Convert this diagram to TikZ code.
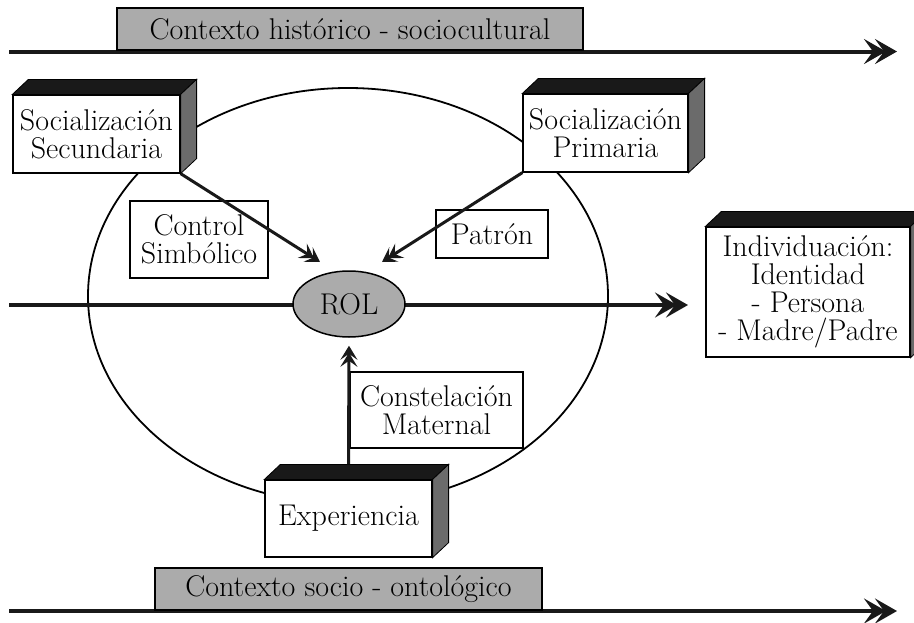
\documentclass[tikz,border=0pt]{standalone}
\usetikzlibrary{arrows.meta,shapes.geometric}
\definecolor{boxgray}{gray}{0.67}
\definecolor{sidegray}{gray}{0.42}
\definecolor{topblack}{gray}{0.1}
\tikzset{
  txt/.style={font=\fontsize{30}{28}\selectfont, align=center, text=black, inner sep=0pt},
  whitebox/.style={txt, draw=black, line width=1.2pt, fill=white},
  graybox/.style={txt, draw=black, line width=1.2pt, fill=boxgray},
  rolstyle/.style={txt, ellipse, draw=black, line width=1.5pt, fill=boxgray, minimum width=112pt, minimum height=66pt},
  bigline/.style={line width=4pt, draw=topblack,
    -{Stealth[length=22pt,width=25pt,inset=9pt,sep=-11pt]Stealth[length=22pt,width=25pt,inset=9pt]}},
  thinarrow/.style={line width=3pt, draw=topblack,
    -{Stealth[length=14pt,width=17pt,inset=6pt,sep=-7pt]Stealth[length=14pt,width=17pt,inset=6pt]}},
}
\newcommand\depthfaces[1]{%
  \filldraw[fill=topblack,draw=black,line width=0.8pt] (#1.north west) -- ++(16pt,15pt) -- ([shift={(16pt,15pt)}]#1.north east) -- (#1.north east) -- cycle;
  \filldraw[fill=sidegray,draw=black,line width=0.8pt] (#1.north east) -- ++(16pt,15pt) -- ([shift={(16pt,15pt)}]#1.south east) -- (#1.south east) -- cycle;
}
\begin{document}
\begin{tikzpicture}[x=1pt,y=-1pt]
\useasboundingbox (0,0) rectangle (914,622);
\fill[white] (0,0) rectangle (914,622);

% big circle
\draw[line width=1.8pt] (348,296) ellipse [x radius=260pt, y radius=208pt];

% horizontal lines
\coordinate (t0) at (9,51.5);
\coordinate (t1) at (897,51.5);
\coordinate (b0) at (9,611);
\coordinate (b1) at (897,611);
\coordinate (m0) at (9,305);
\coordinate (m1) at (688,305);
\draw[bigline] (t0) -- (t1);
\draw[bigline] (b0) -- (b1);
\draw[bigline] (m0) -- (m1);

% context boxes
\node[graybox, minimum width=466pt, minimum height=42pt] (hist) at (350,29) {Contexto histórico - sociocultural};
\node[graybox, minimum width=387pt, minimum height=42pt] (onto) at (348.5,589) {Contexto socio - ontológico};

% ROL
\node[rolstyle] (rol) at (349,304) {ROL};

% plain boxes
\node[whitebox, minimum width=138pt, minimum height=77pt] (ctrl) at (199,239.5) {Control\\Simbólico};
\node[whitebox, minimum width=112pt, minimum height=48pt] (pat) at (492,234) {Patrón};
\node[whitebox, minimum width=173pt, minimum height=76pt] (cons) at (436.5,410) {Constelación\\Maternal};

% 3D boxes
\node[whitebox, minimum width=167pt, minimum height=78pt] (ss) at (96.5,134) {Socialización\\Secundaria};
\depthfaces{ss}
\node[whitebox, minimum width=165pt, minimum height=78pt] (sp) at (605.5,133) {Socialización\\Primaria};
\depthfaces{sp}
\node[whitebox, minimum width=204pt, minimum height=130pt] (ind) at (808,292) {Individuación:\\Identidad\\- Persona\\- Madre/Padre};
\depthfaces{ind}
\node[whitebox, minimum width=167pt, minimum height=77pt] (exp) at (348.5,518.5) {Experiencia};
\depthfaces{exp}

% arrows into ROL
\coordinate (aL) at (320,262);
\coordinate (aR) at (382,262);
\draw[thinarrow] (ss.south east) -- (aL);
\draw[thinarrow] (sp.south west) -- (aR);
\draw[thinarrow] ([yshift=15pt]exp.north) -- ([yshift=-8pt]rol.south);
\end{tikzpicture}
\end{document}
